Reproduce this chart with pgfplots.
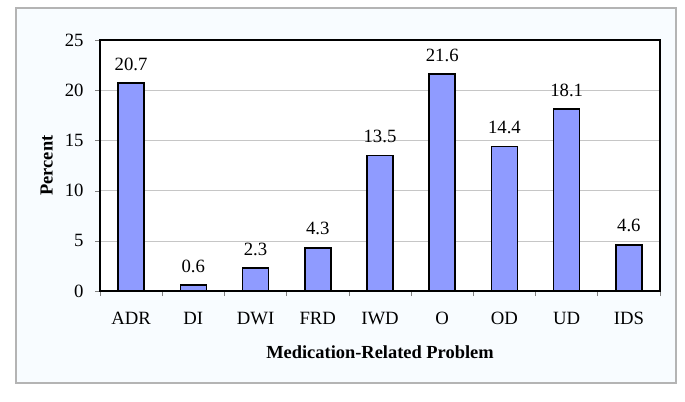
\documentclass[border=0pt]{standalone}
\usepackage{pgfplots}
\pgfplotsset{compat=1.18}
\usepackage{fontspec}
\setmainfont{Liberation Serif}
\definecolor{barblue}{HTML}{8F9BFF}
\definecolor{outerbg}{HTML}{F8FCFF}
\definecolor{outerline}{HTML}{B4B4B4}
\begin{document}
\begin{tikzpicture}[x=1bp,y=1bp]
\path (0,0) rectangle (685,401);
\draw[outerline, line width=1.2bp, fill=outerbg] (16,18) rectangle (676,393);
\begin{axis}[
  at={(100bp,110bp)}, anchor=south west,
  scale only axis, width=560bp, height=251bp,
  axis background/.style={fill=white},
  axis line style={black, line width=1.4bp},
  xmin=-0.5, xmax=8.5, ymin=0, ymax=25,
  ytick={0,5,...,25},
  xtick={0,...,8},
  xticklabels={ADR,DI,DWI,FRD,IWD,O,OD,UD,IDS},
  major x tick style={draw=none},
  minor xtick={-0.5,0.5,...,8.5},
  minor tick length=5bp,
  minor x tick style={gray, line width=0.6bp},
  major tick length=5bp,
  tick align=outside, tick pos=left,
  ymajorgrids, grid style={gray!45, line width=0.6bp},
  /pgf/number format/assume math mode=true,
  tick label style={font=\fontsize{18.8}{22}\selectfont},
  yticklabel style={xshift=-8bp},
  xticklabel style={yshift=-12.5bp},
  xlabel={\textbf{Medication-Related Problem}},
  ylabel={\textbf{Percent}},
  label style={font=\fontsize{18.5}{22}\selectfont},
  xlabel style={yshift=-14bp},
  ylabel style={yshift=5bp},
  ybar, bar width=0.418,
  nodes near coords,
  nodes near coords style={font=\fontsize{18.8}{22}\selectfont, yshift=8.5bp, /pgf/number format/fixed, /pgf/number format/precision=1, /pgf/number format/fixed zerofill},
]
\addplot[fill=barblue, draw=black, line width=1.6bp] coordinates {
(0,20.7) (1,0.6) (2,2.3) (3,4.3) (4,13.5) (5,21.6) (6,14.4) (7,18.1) (8,4.6)
};
\end{axis}
\end{tikzpicture}
\end{document}
